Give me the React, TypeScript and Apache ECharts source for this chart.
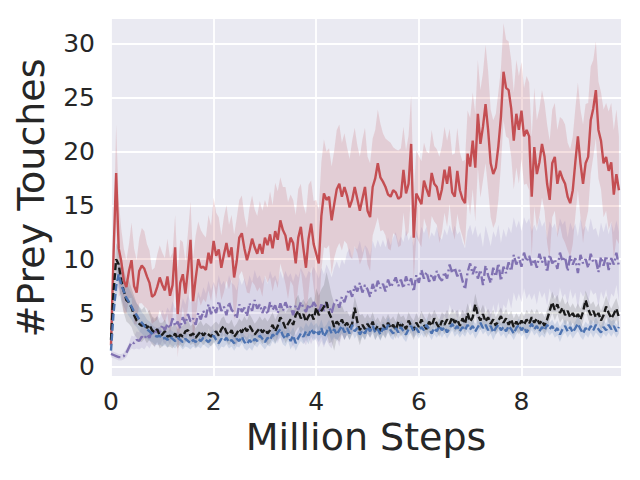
import React, { useEffect, useRef } from "react";
import * as echarts from "echarts";

// Sample spacing of the line series (million steps)
const STEP = 0.05;

// Red solid series (mean)
const redMean = [
  2.0,10.5,18.0,11.0,9.8,8.0,7.4,8.9,9.9,7.5,6.9,8.9,9.4,9.1,8.4,7.8,6.5,6.7,7.4,8.3,
  7.6,7.1,8.4,6.6,7.6,11.1,4.9,7.8,8.6,6.8,9.0,11.8,6.1,8.2,10.0,9.2,9.3,9.0,10.6,9.6,
  11.7,10.3,10.9,9.2,10.4,11.5,10.2,11.1,8.3,9.8,12.0,12.4,11.0,9.9,10.8,11.9,11.1,10.5,11.4,10.5,
  12.0,11.3,12.3,11.0,12.6,11.8,13.6,12.7,12.2,10.8,12.0,11.5,9.6,12.0,13.0,11.0,9.2,11.9,13.3,11.4,
  10.5,9.6,14.0,16.1,15.5,15.8,13.6,15.1,16.5,17.0,15.8,16.7,15.9,14.8,15.5,16.7,15.6,14.5,15.6,16.7,
  14.5,13.9,16.7,17.5,18.9,17.6,17.2,16.7,16.0,15.8,16.4,16.2,15.6,15.8,18.3,16.1,17.0,20.7,12.0,16.1,
  15.6,15.1,17.3,16.5,15.8,18.0,17.0,16.7,15.5,16.5,18.3,17.0,18.6,16.2,15.8,18.2,16.4,15.6,15.2,19.8,
  18.6,21.0,18.5,23.5,20.7,22.3,24.4,22.0,18.9,17.9,18.5,20.5,23.2,27.4,25.9,25.7,24.0,21.0,23.5,22.0,
  23.8,21.4,22.0,21.4,15.8,20.4,17.9,19.0,20.7,19.5,17.0,15.5,18.9,19.5,17.0,18.2,17.5,17.0,15.8,15.2,
  16.4,19.0,21.4,18.9,17.0,18.9,19.5,22.9,24.0,25.7,22.0,21.0,18.9,19.5,18.2,19.0,16.0,17.9,16.4,
];

// Purple dash-dot series (mean)
const purpleMean = [
  1.2,1.1,1.0,0.9,0.9,1.0,1.3,1.8,2.3,2.2,2.5,2.4,2.8,2.6,3.0,2.7,3.4,3.0,3.5,3.2,
  3.9,3.4,4.0,3.6,4.5,3.8,4.2,3.6,4.6,4.0,4.9,4.2,4.5,3.9,5.0,4.4,5.2,4.6,5.8,4.9,
  5.6,5.0,6.1,5.2,5.6,4.8,6.0,5.3,5.0,4.5,5.8,5.1,5.5,4.7,5.9,5.2,6.2,5.4,5.8,5.0,
  5.6,4.9,6.0,5.3,5.7,5.0,5.9,5.2,6.0,5.4,5.6,4.8,5.7,5.3,6.0,5.5,5.1,5.8,5.4,6.0,
  5.6,5.0,5.8,5.2,6.0,5.5,5.0,5.9,6.2,5.5,6.5,6.0,6.8,7.2,6.5,7.5,7.0,7.8,6.9,7.6,
  7.2,6.5,7.7,7.0,8.0,7.3,7.7,7.0,8.1,7.4,7.8,8.3,7.5,8.1,7.3,8.4,7.6,8.2,7.0,8.5,
  7.8,9.0,8.2,8.8,7.9,8.6,8.0,8.9,8.3,8.0,8.8,8.2,9.5,8.7,9.2,8.4,9.0,8.0,7.2,8.8,
  9.6,8.6,9.3,8.2,9.0,7.6,9.4,8.5,7.8,9.2,8.4,9.6,8.0,9.3,8.7,9.7,8.9,10.4,9.5,10.2,
  9.3,10.6,9.8,10.3,9.4,10.0,9.2,10.5,9.7,10.2,8.8,10.4,9.6,10.0,9.1,10.6,9.8,10.2,8.9,10.3,
  9.5,10.1,8.7,10.4,9.6,10.0,9.2,10.5,9.7,9.9,8.8,10.2,9.4,10.3,9.0,10.1,9.5,10.6,9.3,
];

// Black dashed series (mean)
const blackMean = [
  2.5,7.0,10.0,9.5,8.0,7.0,6.2,6.0,5.5,4.8,4.3,4.0,3.8,4.1,3.6,3.9,3.4,3.2,3.5,2.9,
  3.0,3.3,2.8,2.9,2.7,3.1,2.6,3.0,2.8,3.3,3.4,2.9,3.1,2.7,3.0,3.3,2.9,3.2,3.0,2.8,
  3.1,3.3,2.9,3.5,3.8,3.2,3.0,3.4,2.8,3.1,3.5,3.2,3.7,3.3,3.8,3.4,3.0,3.3,3.6,3.2,
  3.5,3.1,3.4,3.9,3.3,3.8,4.6,4.2,3.6,4.0,4.4,3.9,4.8,5.2,4.5,4.9,4.2,4.7,5.0,4.4,
  5.5,4.8,5.2,5.6,6.0,5.0,4.5,3.7,4.2,3.9,4.4,3.8,4.1,3.6,4.0,5.5,4.2,3.4,3.9,3.5,
  4.0,3.6,4.2,3.4,3.8,3.3,3.9,3.5,4.1,3.6,3.9,3.4,4.2,3.7,4.0,3.5,4.3,3.8,3.4,4.1,
  3.7,4.4,3.9,3.5,4.2,3.8,4.5,4.0,3.6,4.3,3.9,4.4,4.0,4.6,4.1,4.4,3.8,4.5,4.0,5.0,
  4.2,4.6,5.8,4.8,4.3,4.9,4.2,4.6,4.0,4.4,3.8,4.3,4.7,4.1,4.5,3.9,4.4,3.7,4.2,3.8,
  4.3,3.9,4.4,4.0,4.6,4.1,4.5,4.0,4.3,3.8,4.4,5.2,6.0,5.3,5.8,5.0,5.5,4.8,5.2,4.6,
  5.0,4.5,4.9,4.4,5.1,6.2,5.4,4.8,5.2,4.6,5.0,4.3,4.8,5.6,5.0,4.5,4.9,5.4,4.6,
];

// Blue dashed series (mean)
const blueMean = [
  1.5,5.0,7.5,8.6,7.6,7.0,6.4,6.0,5.6,5.1,4.8,4.4,4.1,3.8,3.5,3.3,3.1,2.9,2.8,2.9,
  2.6,2.7,2.5,2.8,2.6,2.4,2.7,2.5,2.3,2.6,2.4,2.2,2.5,2.3,2.6,2.4,2.7,2.5,2.3,2.6,
  2.9,2.5,2.2,2.6,2.4,2.7,2.3,2.5,2.2,2.6,2.4,2.8,2.3,2.1,2.5,2.2,2.6,2.4,2.9,2.6,
  2.3,2.7,2.5,3.0,2.8,3.2,3.5,2.9,2.6,3.1,2.4,2.9,2.2,2.7,3.1,2.8,3.3,2.9,3.5,3.1,
  3.4,3.0,3.6,2.8,3.2,3.7,3.1,3.5,3.0,3.4,3.8,3.2,3.6,3.1,3.9,3.3,3.6,3.0,3.4,3.1,
  3.7,3.3,3.8,3.2,3.5,3.0,3.6,3.3,3.9,3.4,3.1,3.6,3.2,3.7,3.3,3.0,3.5,3.8,3.3,3.6,
  3.2,3.7,3.4,3.9,3.5,3.1,3.6,3.3,3.8,3.4,3.7,3.2,3.6,4.0,3.5,3.8,3.3,3.7,3.4,3.9,
  3.5,3.8,3.3,3.7,4.1,3.6,3.9,3.4,3.8,3.2,3.6,3.9,3.4,3.7,3.3,3.8,3.5,3.1,3.6,3.9,
  3.4,3.7,3.2,3.6,4.0,3.5,3.8,3.3,3.7,3.4,3.9,3.5,3.8,3.3,3.6,3.0,3.5,3.8,3.3,3.7,
  3.2,3.6,4.0,3.5,3.1,3.6,3.3,3.8,3.4,3.9,3.5,3.2,3.7,3.4,3.9,3.5,3.8,3.3,3.7,
];

// Half-widths of the shaded bands, one value per 0.1 million steps
const redSpread = [
  1.0,4.5,3.0,2.5,3.5,3.0,3.5,3.0,2.5,3.0,
  3.0,3.5,3.0,4.0,3.0,3.5,4.0,3.5,3.0,3.5,
  4.0,3.0,3.5,3.0,4.0,3.5,3.0,4.0,3.5,4.0,
  3.5,4.0,4.5,4.0,4.5,4.0,4.5,4.0,5.0,4.0,
  5.0,5.0,4.5,5.0,5.5,5.0,4.5,5.5,5.0,5.5,
  5.0,4.5,5.0,4.5,5.0,4.0,4.5,4.0,4.5,4.0,
  4.0,3.5,4.0,3.5,4.0,4.0,3.5,4.0,3.5,4.0,
  4.5,5.0,5.0,5.5,5.0,5.0,4.5,4.5,4.5,5.0,
  4.5,5.0,5.5,5.0,5.0,5.5,5.0,5.0,5.5,5.0,
  5.0,5.0,5.5,5.0,4.5,4.5,5.0,5.5,6.0,5.0,
];
const purpleSpread = [
  0.3,0.3,0.3,0.4,0.6,0.8,1.0,1.0,1.2,1.3,
  1.4,1.5,1.6,1.6,1.8,1.8,2.0,2.0,2.2,2.2,
  2.3,2.4,2.4,2.5,2.6,2.5,2.7,2.6,2.8,2.7,
  2.8,2.9,2.8,3.0,2.9,3.1,3.0,3.2,3.1,3.3,
  3.2,3.4,3.5,3.3,3.6,3.5,3.8,3.6,3.9,3.7,
  3.8,4.0,3.8,4.1,3.9,4.2,4.0,4.3,4.1,4.2,
  4.0,4.2,3.9,4.1,3.8,4.0,3.7,3.9,3.6,3.8,
  3.6,3.8,3.5,3.7,3.4,3.6,3.5,3.3,3.5,3.4,
  3.3,3.5,3.2,3.4,3.3,3.1,3.3,3.2,3.4,3.1,
  3.2,3.4,3.1,3.3,3.0,3.2,3.1,3.3,3.0,3.2,
];
const blackSpread = [
  0.5,1.5,2.0,2.0,1.8,1.6,1.5,1.4,1.3,1.2,
  1.1,1.0,1.0,0.9,1.0,0.9,0.9,1.0,0.9,0.9,
  0.9,1.0,0.9,1.0,0.9,1.0,1.0,1.1,1.0,1.1,
  1.1,1.2,1.1,1.3,1.4,1.3,1.5,1.4,1.6,1.5,
  1.8,2.0,2.8,2.2,1.6,1.3,1.1,1.0,1.4,1.0,
  0.9,0.9,0.8,0.9,0.8,0.8,0.9,0.8,0.8,0.9,
  0.8,0.8,0.9,0.8,0.8,0.9,0.8,0.9,0.8,0.9,
  0.9,1.0,0.9,0.8,0.9,0.8,0.8,0.9,0.8,0.8,
  0.8,0.9,0.8,0.9,0.8,0.9,1.0,0.9,1.0,0.9,
  0.9,1.0,0.9,1.0,0.9,0.9,1.0,0.9,1.0,0.9,
];
const blueSpread = [
  0.5,1.2,1.4,1.3,1.2,1.1,1.0,0.9,0.8,0.8,
  0.7,0.7,0.7,0.6,0.7,0.6,0.6,0.7,0.6,0.6,
  0.6,0.7,0.6,0.6,0.7,0.6,0.6,0.7,0.6,0.7,
  0.7,0.6,0.7,0.8,0.7,0.8,0.7,0.7,0.8,0.7,
  0.7,0.8,0.7,0.7,0.6,0.7,0.6,0.7,0.6,0.6,
  0.6,0.7,0.6,0.6,0.7,0.6,0.6,0.7,0.6,0.6,
  0.6,0.7,0.6,0.6,0.7,0.6,0.6,0.7,0.6,0.6,
  0.6,0.7,0.6,0.6,0.7,0.6,0.6,0.7,0.6,0.6,
  0.6,0.7,0.6,0.6,0.7,0.6,0.6,0.7,0.6,0.6,
  0.6,0.7,0.6,0.6,0.7,0.6,0.6,0.7,0.6,0.6,
];

const xTickLabels = ["0", "2", "4", "6", "8"];
const yTickLabels = ["0", "5", "10", "15", "20", "25", "30"];

const TEXT = "#262626";
const FONT = "DejaVu Sans";

function xAt(i: number) {
  return Math.round(i * STEP * 100) / 100;
}

function toPairs(arr: number[]) {
  return arr.map((v, i) => [xAt(i), v]);
}

function band(mean: number[], spread: number[], fill: string) {
  return {
    type: "custom",
    silent: true,
    z: 1,
    data: [[0, 0]],
    renderItem: (_params: any, api: any) => {
      const up: number[][] = [];
      const lo: number[][] = [];
      mean.forEach((m, i) => {
        const s = spread[Math.min(spread.length - 1, Math.floor(i / 2))];
        up.push(api.coord([xAt(i), m + s]));
        lo.push(api.coord([xAt(i), m - s]));
      });
      return {
        type: "polygon",
        shape: { points: up.concat(lo.reverse()) },
        style: { fill },
      };
    },
  };
}

function line(arr: number[], color: string, dash: any, z: number) {
  return {
    type: "line",
    data: toPairs(arr),
    showSymbol: false,
    symbol: "none",
    z,
    lineStyle: { color, width: 2.4, type: dash },
    emphasis: { disabled: true },
  };
}

export default function App() {
  const ref = useRef<HTMLDivElement>(null);
  useEffect(() => {
    if (!ref.current) return;
    const chart = echarts.init(ref.current, null, { renderer: "svg" });
    const option: any = {
      animation: false,
      backgroundColor: "#ffffff",
      grid: {
        left: 111,
        top: 19,
        right: 19,
        bottom: 104,
        show: true,
        backgroundColor: "#EAEAF2",
        borderWidth: 0,
      },
      xAxis: {
        type: "value",
        min: 0,
        max: 9.94,
        interval: 2,
        axisLine: { show: false },
        axisTick: { show: false },
        axisLabel: {
          color: TEXT,
          fontFamily: FONT,
          fontSize: 25,
          margin: 13,
          showMaxLabel: false,
          formatter: (v: number) => {
            const s = String(Math.round(v));
            return xTickLabels.includes(s) && Math.abs(v - Math.round(v)) < 1e-6 ? s : "";
          },
        },
        splitLine: {
          show: true,
          showMaxLine: false,
          lineStyle: { color: "#ffffff", width: 1.8 },
        },
      },
      yAxis: {
        type: "value",
        min: -0.85,
        max: 32.3,
        minInterval: 5,
        maxInterval: 5,
        axisLine: { show: false },
        axisTick: { show: false },
        axisLabel: {
          color: TEXT,
          fontFamily: FONT,
          fontSize: 25,
          margin: 16,
          showMinLabel: false,
          showMaxLabel: false,
          formatter: (v: number) => {
            const s = String(Math.round(v));
            return yTickLabels.includes(s) && Math.abs(v - Math.round(v)) < 1e-6 ? s : "";
          },
        },
        splitLine: {
          show: true,
          showMinLine: false,
          showMaxLine: false,
          lineStyle: { color: "#ffffff", width: 1.8 },
        },
      },
      graphic: [
        {
          type: "text",
          x: 366,
          y: 437,
          style: {
            text: "Million Steps",
            fontFamily: FONT,
            fontSize: 38,
            fill: TEXT,
            align: "center",
            verticalAlign: "middle",
          },
        },
        {
          type: "text",
          x: 31,
          y: 198,
          rotation: Math.PI / 2,
          style: {
            text: "#Prey Touches",
            fontFamily: FONT,
            fontSize: 38,
            fill: TEXT,
            align: "center",
            verticalAlign: "middle",
          },
        },
      ],
      series: [
        band(redMean, redSpread, "rgba(196,78,82,0.18)"),
        band(purpleMean, purpleSpread, "rgba(129,114,178,0.16)"),
        band(blackMean, blackSpread, "rgba(0,0,0,0.12)"),
        band(blueMean, blueSpread, "rgba(76,114,176,0.18)"),
        line(purpleMean, "#8172B2", [10, 3, 2, 3], 3),
        line(redMean, "#C44E52", "solid", 4),
        line(blackMean, "#1a1a1a", [7, 3], 5),
        line(blueMean, "#4C72B0", [7, 3], 6),
      ],
    };
    chart.setOption(option);
    return () => chart.dispose();
  }, []);
  return (
    <div
      ref={ref}
      style={{ position: "fixed", left: 0, top: 0, width: 640, height: 480 }}
    />
  );
}
